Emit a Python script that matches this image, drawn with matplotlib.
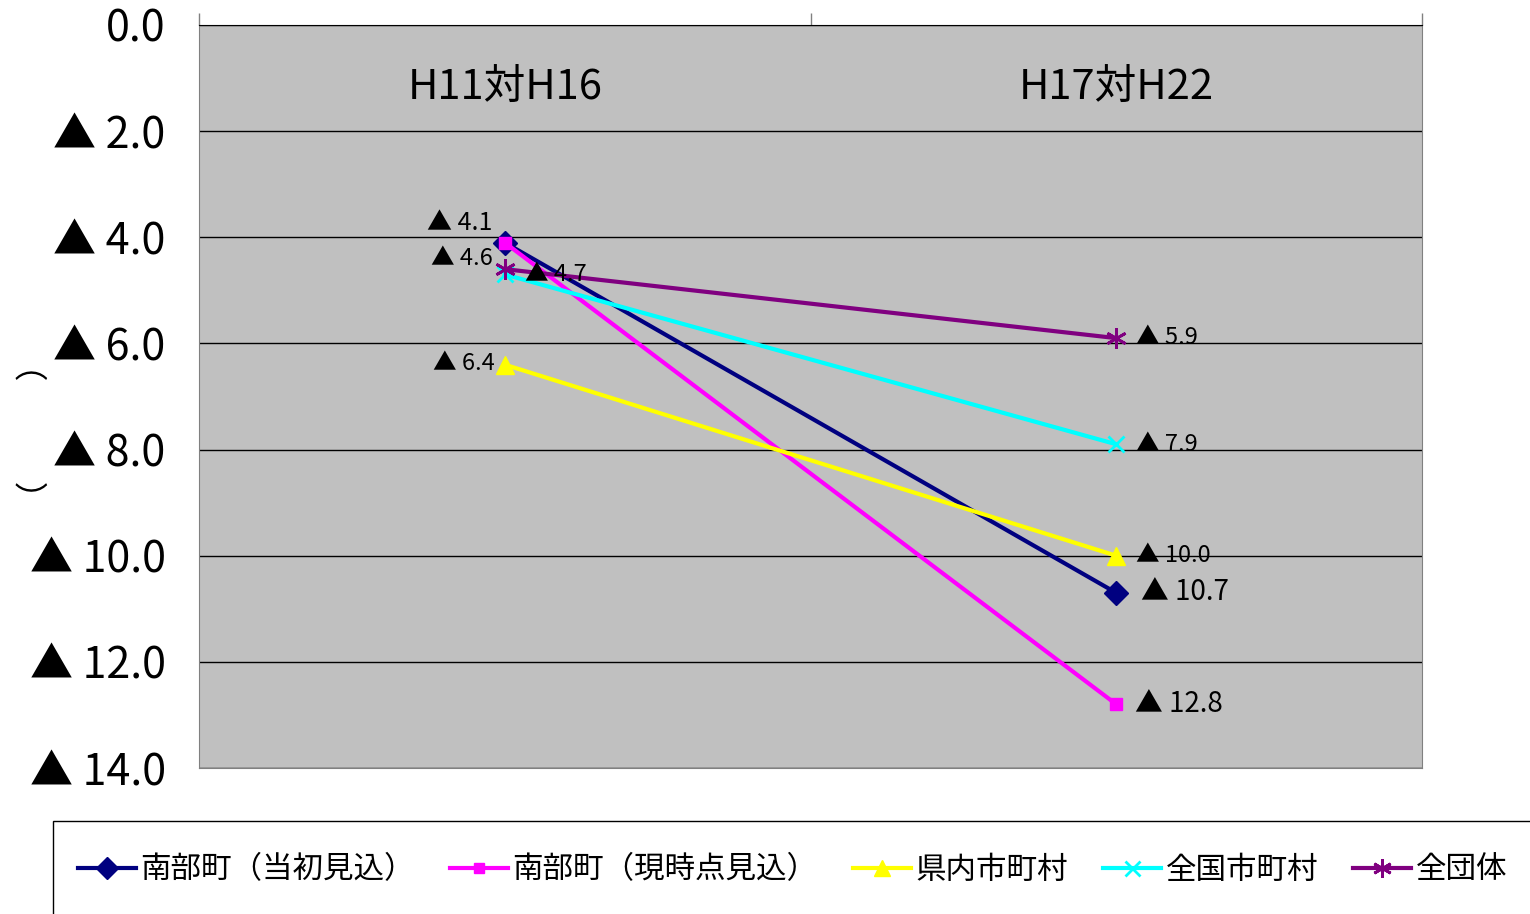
import matplotlib
matplotlib.use("Agg")
import matplotlib.pyplot as plt
import matplotlib.patches as patches
from matplotlib.lines import Line2D

plt.rcParams['font.family'] = ['Noto Sans CJK JP', 'DejaVu Sans']

# データ
categories = ["H11対H16", "H17対H22"]
series_names = ["南部町（当初見込）", "南部町（現時点見込）", "県内市町村", "全国市町村", "全団体"]
nanbu_initial = [4.1, 10.7]
nanbu_current = [4.1, 12.8]
pref_muni = [6.4, 10.0]
national_muni = [4.7, 7.9]
all_groups = [4.6, 5.9]
y_ticks = [0, 2, 4, 6, 8, 10, 12, 14]

series_values = [nanbu_initial, nanbu_current, pref_muni, national_muni, all_groups]
colors = ["#000080", "#FF00FF", "#FFFF00", "#00FFFF", "#800080"]
markers = ["D", "s", "^", "x", (6, 2, 0)]
msizes = [12, 8, 13, 12, 15]

# ラベル表示 (series index, point index, offset px (右, 上), ha, fontsize)
label_specs = [
    (0, 0, (-12, 20), "right", 18),
    (4, 0, (-12, 11), "right", 17),
    (3, 0, (20, 0), "left", 17),
    (2, 0, (-10, 1), "right", 17),
    (4, 1, (20, 1), "left", 17),
    (3, 1, (20, 0), "left", 17),
    (2, 1, (20, 0), "left", 17),
    (0, 1, (25, 1), "left", 20),
    (1, 1, (19, 0), "left", 20),
]

fig = plt.figure(figsize=(15.3, 9.14), dpi=100)
ax = fig.add_axes([199 / 1530, 1 - 768 / 914, (1422 - 199) / 1530, (768 - 25) / 914])
ax.set_facecolor("#C0C0C0")

x = list(range(len(categories)))
for vals, c, m, ms, name in zip(series_values, colors, markers, msizes, series_names):
    ax.plot(x, vals, color=c, lw=3, marker=m, markersize=ms, mfc=c, mec=c,
            mew=2 if m in ("x", (6, 2, 0)) else 1, label=name, zorder=3)

for si, pi, off, ha, fs in label_specs:
    v = series_values[si][pi]
    ax.annotate("▲ {:.1f}".format(v), (x[pi], v), xytext=(off[0] * 0.72, off[1] * 0.72),
                textcoords="offset points", ha=ha, va="center", fontsize=fs, zorder=4)

ax.set_xlim(-0.5, 1.5)
ax.set_ylim(14, 0)
ax.set_yticks(y_ticks)
ax.set_yticklabels(["0.0"] + ["▲ {:.1f}".format(t) for t in y_ticks[1:]], fontsize=31)
ax.tick_params(axis="y", length=0, pad=24)
ax.yaxis.grid(True, color="black", lw=1)
ax.set_axisbelow(True)

ax.xaxis.tick_top()
ax.set_xticks([-0.5, 0.5, 1.5])
ax.set_xticklabels([])
ax.tick_params(axis="x", direction="out", length=9, color="#808080", width=1)
for xi, cat in zip(x, categories):
    ax.text(xi, 1.17, cat, ha="center", va="center", fontsize=30)

for s in ["left", "right", "bottom"]:
    ax.spines[s].set_color("#808080")
ax.spines["top"].set_color("black")

fig.text(35 / 1530, 1 - 431 / 914, "（　　　）", rotation=90, ha="center", va="center", fontsize=24)

# 凡例
handles = [Line2D([], [], color=c, lw=3, marker=m, markersize=ms * 0.9, mfc=c, mec=c,
                  mew=2 if m in ("x", (6, 2, 0)) else 1)
           for c, m, ms in zip(colors, markers, msizes)]
fig.legend(handles, series_names, ncol=5, loc="center left", bbox_to_anchor=(50 / 1530, 1 - 870 / 914),
           frameon=False, fontsize=22, handlelength=1.9, handletextpad=0.15, columnspacing=1.15)
fig.patches.append(patches.Rectangle((53 / 1530, -0.1), 1.0, 0.1 + 93 / 914, transform=fig.transFigure,
                                     fill=False, ec="black", lw=1))

fig.savefig("out.png", dpi=100)
